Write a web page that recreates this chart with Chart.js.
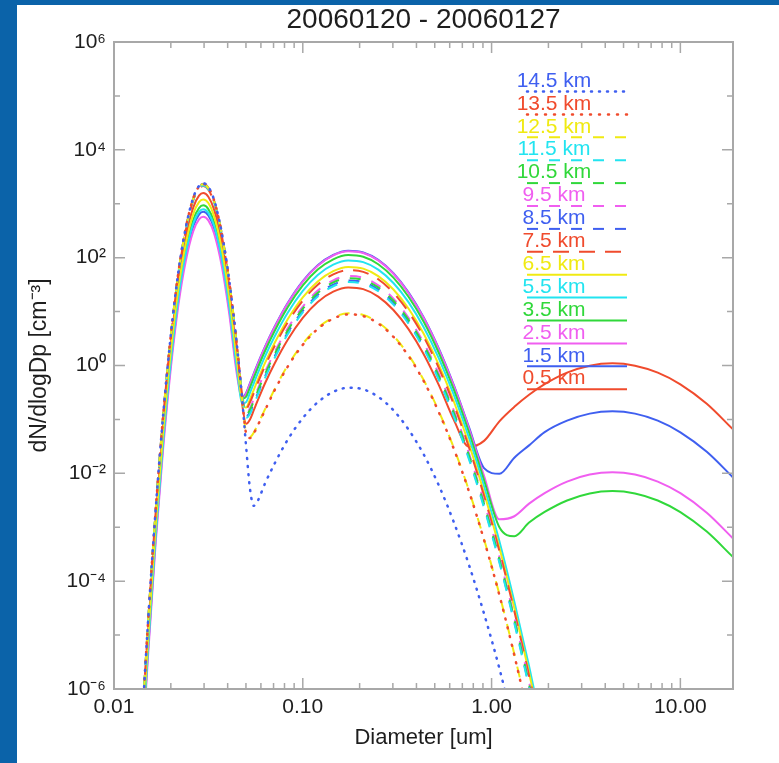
<!DOCTYPE html>
<html>
<head>
<meta charset="utf-8">
<script src="https://cdn.jsdelivr.net/npm/chart.js@4.4.1/dist/chart.umd.min.js"></script>
<style>
  body { margin: 0; background: #0b63a9; }
  #panel { position: absolute; left: 17px; top: 5px; width: 762px; height: 758px; background: #fff; }
</style>
</head>
<body>
<div id="panel"><canvas id="sizeDist" width="762" height="758"></canvas></div>
<script>
// Particle size distributions for 20060120 - 20060127, one curve per altitude level
const altitudes = ['14.5 km', '13.5 km', '12.5 km', '11.5 km', '10.5 km', '9.5 km', '8.5 km',
                   '7.5 km', '6.5 km', '5.5 km', '3.5 km', '2.5 km', '1.5 km', '0.5 km'];

// diameters in um
const diameters = [0.0138, 0.0151, 0.0166, 0.0182, 0.0200, 0.0219, 0.0240, 0.0263, 0.0282, 0.0297,
                   0.0316, 0.0339, 0.0372, 0.0407, 0.0447, 0.0479, 0.0501, 0.0525, 0.0550, 0.0575,
                   0.0631, 0.0708, 0.0832, 0.100, 0.120, 0.145, 0.174, 0.209, 0.251, 0.302,
                   0.363, 0.437, 0.525, 0.631, 0.759, 0.912, 1.10, 1.32, 1.58, 1.91,
                   2.51, 3.31, 4.37, 5.75, 7.59, 10.0, 13.8, 19.0];

// dN/dlogDp in cm-3
const n145 = [7.1e-8, 1.5e-5, 2.0e-3, 0.117, 3.7, 53, 361, 1300, 2140, 2400,
              2050, 1180, 294, 39.5, 2.54, 0.205, 0.0314, 0.0052, 0.0025, 0.0030,
              0.0065, 0.015, 0.042, 0.106, 0.208, 0.324, 0.387, 0.361, 0.262, 0.148,
              0.065, 0.0224, 6.0e-3, 1.24e-3, 2.0e-4, 2.5e-5, 2.4e-6, 1.8e-7];
const n135 = [6.9e-8, 1.45e-5, 1.95e-3, 0.115, 3.63, 51.9, 353, 1270, 2090, 2340,
              2000, 1150, 287, 38.6, 2.49, 0.213, 0.055, 0.045, 0.055, 0.075,
              0.148, 0.343, 0.953, 2.42, 4.76, 7.41, 8.87, 8.26, 6.01, 3.40,
              1.50, 0.513, 0.137, 0.0284, 4.6e-3, 5.8e-4, 5.5e-5, 4.2e-6, 2.7e-7];
const n125 = [6.8e-8, 1.41e-5, 1.9e-3, 0.112, 3.55, 50.7, 345, 1240, 2040, 2290,
              1950, 1120, 281, 37.8, 2.43, 0.209, 0.056, 0.047, 0.057, 0.078,
              0.155, 0.359, 0.998, 2.53, 4.98, 7.76, 9.29, 8.65, 6.29, 3.56,
              1.57, 0.537, 0.143, 0.0297, 4.8e-3, 6.0e-4, 5.7e-5, 4.4e-6, 2.8e-7];
const n115 = [6.5e-8, 1.35e-5, 1.82e-3, 0.107, 3.39, 48.4, 330, 1180, 1950, 2190,
              1870, 1070, 268, 36.1, 2.34, 0.237, 0.107, 0.126, 0.186, 0.275,
              0.589, 1.36, 3.79, 9.64, 19.0, 29.5, 35.3, 32.9, 23.9, 13.5,
              5.96, 2.04, 0.545, 0.113, 0.0182, 2.3e-3, 2.2e-4, 1.66e-5, 1.05e-6, 4.5e-8];
const n105 = [6.8e-8, 1.41e-5, 1.9e-3, 0.112, 3.55, 50.7, 345, 1240, 2040, 2290,
              1950, 1120, 281, 37.8, 2.45, 0.255, 0.123, 0.149, 0.219, 0.323,
              0.692, 1.60, 4.45, 11.3, 22.3, 34.7, 41.5, 38.7, 28.1, 15.9,
              7.0, 2.40, 0.64, 0.133, 0.0214, 2.7e-3, 2.56e-4, 1.95e-5, 1.23e-6, 5.3e-8];
const n95 = [6.9e-8, 1.45e-5, 1.95e-3, 0.115, 3.63, 51.9, 353, 1270, 2090, 2340,
             2000, 1150, 287, 38.6, 2.51, 0.266, 0.132, 0.162, 0.240, 0.354,
             0.759, 1.75, 4.88, 12.4, 24.5, 38.0, 45.5, 42.4, 30.8, 17.4,
             7.68, 2.63, 0.702, 0.146, 0.0234, 2.96e-3, 2.81e-4, 2.14e-5, 1.35e-6, 5.8e-8];
const n85 = [6.6e-8, 1.38e-5, 1.86e-3, 0.110, 3.47, 49.5, 337, 1210, 2000, 2240,
             1910, 1100, 274, 36.9, 2.40, 0.246, 0.114, 0.136, 0.199, 0.295,
             0.631, 1.46, 4.06, 10.3, 20.4, 31.6, 37.8, 35.3, 25.6, 14.5,
             6.39, 2.19, 0.584, 0.121, 0.0195, 2.47e-3, 2.34e-4, 1.78e-5, 1.13e-6, 4.8e-8];
const n75 = [6.3e-8, 1.32e-5, 1.78e-3, 0.105, 3.31, 47.3, 322, 1160, 1910, 2140,
             1820, 1050, 262, 35.2, 2.30, 0.267, 0.159, 0.207, 0.309, 0.457,
             0.978, 2.26, 6.29, 16.0, 31.5, 49.0, 58.6, 54.6, 39.7, 22.4,
             9.89, 3.39, 0.905, 0.188, 0.0302, 3.82e-3, 3.62e-4, 2.76e-5, 1.74e-6, 7.5e-8];
const n65 = [3.5e-8, 7.4e-6, 1.0e-3, 0.0589, 1.86, 26.6, 181, 650, 1070, 1200,
             1030, 590, 147, 19.8, 1.32, 0.200, 0.166, 0.236, 0.354, 0.524,
             1.12, 2.59, 7.22, 18.4, 36.2, 56.2, 67.2, 62.7, 45.5, 25.7,
             11.4, 3.89, 1.04, 0.215, 0.0347, 4.38e-3, 4.15e-4, 3.16e-5, 2.0e-6, 8.6e-8];
const n55 = [2.3e-8, 4.9e-6, 6.6e-4, 0.0389, 1.23, 17.6, 120, 430, 708, 794,
             678, 390, 97.3, 13.1, 0.904, 0.197, 0.209, 0.310, 0.467, 0.691,
             1.48, 3.42, 9.52, 24.2, 47.7, 74.1, 88.7, 82.6, 60.0, 33.9,
             15.0, 5.12, 1.37, 0.284, 0.0457, 5.78e-3, 5.48e-4, 4.17e-5, 2.64e-6, 1.13e-7];
const n35 = [2.8e-8, 5.8e-6, 7.8e-4, 0.0457, 1.45, 20.7, 141, 505, 832, 933,
             796, 458, 114, 15.4, 1.07, 0.242, 0.263, 0.390, 0.588, 0.870,
             1.86, 4.30, 12.0, 30.5, 60.1, 93.3, 112, 104, 75.6, 42.7,
             18.8, 6.45, 1.72, 0.357, 0.0577, 7.46e-3, 1.0e-3, 6.8e-4, 1.22e-3, 1.92e-3,
             3.14e-3, 4.24e-3, 4.68e-3, 4.24e-3, 3.14e-3, 1.91e-3, 8.3e-4, 2.8e-4];
const n25 = [1.7e-8, 3.5e-6, 4.8e-4, 0.0282, 0.891, 12.7, 86.7, 311, 513, 575,
             491, 282, 70.5, 9.53, 0.704, 0.240, 0.302, 0.458, 0.691, 1.02,
             2.19, 5.05, 14.1, 35.8, 70.6, 110, 131, 122, 88.8, 50.2,
             22.1, 7.58, 2.02, 0.420, 0.0678, 8.97e-3, 1.4e-3, 1.6e-3, 2.74e-3, 4.30e-3,
             7.03e-3, 9.49e-3, 0.0105, 9.49e-3, 7.03e-3, 4.28e-3, 1.86e-3, 6.2e-4];
const n15 = [2.1e-8, 4.4e-6, 5.9e-4, 0.0347, 1.10, 15.7, 107, 383, 631, 708,
             604, 348, 86.7, 11.7, 0.846, 0.255, 0.311, 0.469, 0.707, 1.05,
             2.24, 5.17, 14.4, 36.7, 72.2, 112, 134, 125, 90.9, 51.3,
             22.7, 7.76, 2.07, 0.431, 0.0718, 0.0125, 0.0098, 0.0195, 0.033, 0.058,
             0.0948, 0.128, 0.141, 0.128, 0.0948, 0.0577, 0.0251, 8.4e-3];
const n05 = [4.7e-8, 9.8e-6, 1.32e-3, 0.0776, 2.45, 35.1, 239, 857, 1410, 1585,
             1350, 778, 194, 26.1, 1.69, 0.176, 0.083, 0.100, 0.148, 0.218,
             0.468, 1.08, 3.01, 7.65, 15.1, 23.4, 28.0, 26.1, 19.0, 10.7,
             4.73, 1.62, 0.436, 0.098, 0.031, 0.040, 0.0922, 0.171, 0.286, 0.450,
             0.736, 0.993, 1.096, 0.993, 0.736, 0.448, 0.195, 0.0653];

const xTicks = [0.01, 0.1, 1, 10];
const yTicks = [1e-6, 1e-4, 1e-2, 1, 1e2, 1e4, 1e6];

const BLUE = '#3f5ff0', RED = '#f04b2d', YELLOW = '#f0ea12', CYAN = '#22e4f0', GREEN = '#30d83a', MAGENTA = '#f05ef0';
const colors = [BLUE, RED, YELLOW, CYAN, GREEN, MAGENTA, BLUE, RED, YELLOW, CYAN, GREEN, MAGENTA, BLUE, RED];
const dotted = [1, 7], sparseDots = [1, 8], dashed = [11, 11], longDash = [16, 10];
const dashes = [dotted, sparseDots, dashed, dashed, dashed, dashed, dashed, longDash, [], [], [], [], [], []];
const values = [n145, n135, n125, n115, n105, n95, n85, n75, n65, n55, n35, n25, n15, n05];

const FONT = '"Liberation Sans", Arial, Helvetica, sans-serif';
Chart.defaults.font.family = FONT;
Chart.defaults.color = '#1e1e1e';

const supDigits = { '-': '\u207B', '0': '\u2070', '1': '\u00B9', '2': '\u00B2', '3': '\u00B3', '4': '\u2074',
                    '5': '\u2075', '6': '\u2076', '7': '\u2077', '8': '\u2078', '9': '\u2079' };
function powerLabel(v) {
    const e = String(Math.round(Math.log10(v)));
    return '10' + e.split('').map(c => supDigits[c]).join('');
}

// box, inward ticks on all four sides, title and the altitude key
const idlFrame = {
    id: 'idlFrame',
    afterDatasetsDraw(chart) {
        const { ctx, chartArea: a, scales: { x, y } } = chart;
        ctx.save();
        ctx.strokeStyle = '#a8a8a8';
        ctx.lineWidth = 2;
        ctx.strokeRect(a.left, a.top, a.right - a.left, a.bottom - a.top);
        ctx.lineWidth = 1.5;
        ctx.beginPath();
        for (let p = -2; p <= 1; p++) {
            for (let m = 1; m <= 9; m++) {
                const v = m * Math.pow(10, p);
                if (v > x.max) break;
                const px = x.getPixelForValue(v);
                const len = m === 1 ? 11 : 6;
                ctx.moveTo(px, a.bottom); ctx.lineTo(px, a.bottom - len);
                ctx.moveTo(px, a.top); ctx.lineTo(px, a.top + len);
            }
        }
        for (let e = -6; e <= 6; e++) {
            const py = y.getPixelForValue(Math.pow(10, e));
            const len = e % 2 === 0 ? 11 : 6;
            ctx.moveTo(a.left, py); ctx.lineTo(a.left + len, py);
            ctx.moveTo(a.right, py); ctx.lineTo(a.right - len, py);
        }
        ctx.stroke();

        ctx.fillStyle = '#1e1e1e';
        ctx.font = '28px ' + FONT;
        ctx.textAlign = 'center';
        ctx.textBaseline = 'middle';
        ctx.fillText('20060120 - 20060127', (a.left + a.right) / 2, 15);

        ctx.font = '21px ' + FONT;
        chart.data.datasets.forEach((ds, i) => {
            const yc = a.top + 39 + i * 22.9;
            ctx.fillStyle = ds.borderColor;
            ctx.fillText(ds.label, a.left + 440, yc);
            ctx.strokeStyle = ds.borderColor;
            ctx.lineWidth = ds.borderWidth;
            ctx.lineCap = ds.borderCapStyle;
            ctx.setLineDash(ds.borderDash);
            ctx.beginPath();
            ctx.moveTo(a.left + 413, yc + 10.5);
            ctx.lineTo(a.left + 513, yc + 10.5);
            ctx.stroke();
        });
        ctx.restore();
    }
};

new Chart(document.getElementById('sizeDist'), {
    type: 'line',
    data: {
        labels: diameters,
        datasets: altitudes.map((name, i) => ({
            label: name,
            data: values[i],
            borderColor: colors[i],
            borderWidth: dashes[i] === dotted || dashes[i] === sparseDots ? 2.5 : 2,
            borderDash: dashes[i],
            borderCapStyle: dashes[i] === dotted || dashes[i] === sparseDots ? 'round' : 'butt',
            cubicInterpolationMode: 'monotone',
            pointRadius: 0,
            fill: false
        }))
    },
    options: {
        responsive: false,
        animation: false,
        devicePixelRatio: 1,
        layout: { padding: { left: 0, top: 37, right: 46, bottom: 0 } },
        plugins: { legend: { display: false }, tooltip: { enabled: false } },
        scales: {
            x: {
                type: 'logarithmic',
                min: 0.01,
                max: 19,
                grid: { display: false, drawTicks: false },
                border: { display: false },
                afterBuildTicks: s => { s.ticks = xTicks.map(v => ({ value: v })); },
                afterFit: s => { s.height = 74; },
                ticks: {
                    autoSkip: false, maxRotation: 0, padding: 6,
                    font: { size: 21 },
                    callback: v => Number(v).toFixed(2)
                },
                title: { display: true, text: 'Diameter [um]', font: { size: 22 }, padding: { top: 0, bottom: 12 } }
            },
            y: {
                type: 'logarithmic',
                min: 1e-6,
                max: 1e6,
                grid: { display: false, drawTicks: false },
                border: { display: false },
                afterBuildTicks: s => { s.ticks = yTicks.map(v => ({ value: v })); },
                afterFit: s => { s.width = 97; },
                ticks: {
                    autoSkip: false, padding: 8,
                    font: { size: 21 },
                    callback: v => powerLabel(v)
                },
                title: { display: true, text: 'dN/dlogDp [cm\u207B\u00B3]', font: { size: 23 }, padding: { top: 9, bottom: 0 } }
            }
        }
    },
    plugins: [idlFrame]
});
</script>
</body>
</html>
